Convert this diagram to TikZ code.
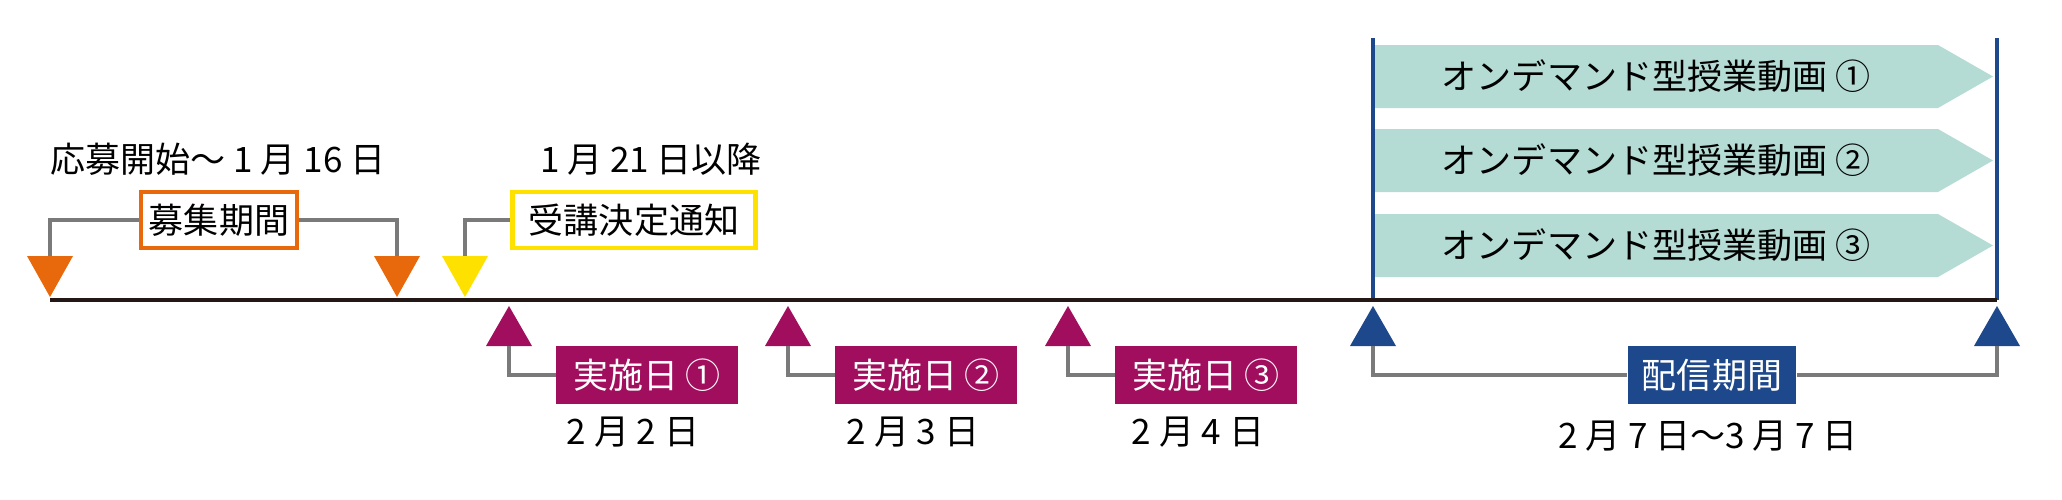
\documentclass[tikz,border=0pt]{standalone}
\usepackage{fontspec}
\setmainfont{Noto Sans CJK JP}
\usetikzlibrary{positioning}
\definecolor{boshu}{RGB}{232,105,12}
\definecolor{tsuchi}{RGB}{255,225,0}
\definecolor{jisshi}{RGB}{161,14,94}
\definecolor{haishin}{RGB}{29,72,140}
\definecolor{douga}{RGB}{180,220,212}
\definecolor{kagigray}{RGB}{122,122,122}
\definecolor{jiku}{RGB}{35,24,21}
\tikzset{
	lbl/.style={inner sep=0pt,font=\fontsize{9.96pt}{12pt}\selectfont},
	outbox/.style={lbl,draw=#1,line width=1.2pt,fill=white,minimum height=0.56cm},
	fillbox/.style={lbl,fill=#1,text=white,minimum height=0.57cm},
	bracket/.style={draw=kagigray,line width=1.1pt}
}
\newcommand{\downmark}[3]{\fill[#3] (#1-23,256) -- (#1+23,256) -- (#1,297) -- cycle; \coordinate (#2) at (#1,256);}
\newcommand{\upmark}[3]{\fill[#3] (#1,306) -- (#1+23,346) -- (#1-23,346) -- cycle; \coordinate (#2) at (#1,346);}
\newcommand{\dougarow}[3]{\fill[douga] (1375,#1-31.5) -- (1938,#1-31.5) -- (1993,#1) -- (1938,#1+31.5) -- (1375,#1+31.5) -- cycle; \node[lbl] (#2) at (1656,#1) {#3};}
\begin{document}
\begin{tikzpicture}[x=0.01cm,y=-0.01cm]
	\useasboundingbox (0,0) rectangle (2062,500);
	% on-demand videos
	\dougarow{76.5}{douga1}{オンデマンド型授業動画 ①}
	\dougarow{160.5}{douga2}{オンデマンド型授業動画 ②}
	\dougarow{245.5}{douga3}{オンデマンド型授業動画 ③}
	\coordinate (haishinL) at (1373,38); \coordinate (haishinR) at (1997,38);
	\coordinate (start) at (50,300); \coordinate (end) at (1997,300);
	\draw[haishin,line width=0.95pt] (haishinL) -- (haishinL |- start) (haishinR) -- (end);
	\draw[jiku,line width=1.4pt] (start) -- (end);
	% above the line
	\downmark{50}{o1}{boshu} \downmark{397}{o2}{boshu} \downmark{465}{y1}{tsuchi}
	\node[outbox=boshu,minimum width=1.56cm] (boshukikan) at (219,220) {募集期間};
	\node[outbox=tsuchi,minimum width=2.43cm] (tsuchi) at (634,220) {受講決定通知};
	\draw[bracket] (o1) |- (boshukikan.west) (o2) |- (boshukikan.east) (y1) |- (tsuchi.west);
	\node[lbl] (boshudate) at (218,159) {応募開始～ 1 月 16 日};
	\node[lbl] (tsuchidate) at (651,159) {1 月 21 日以降};
	% below the line
	\upmark{509}{p1}{jisshi} \upmark{788}{p2}{jisshi} \upmark{1068}{p3}{jisshi}
	\upmark{1373}{b1}{haishin} \upmark{1997}{b2}{haishin}
	\node[fillbox=jisshi,minimum width=1.81cm] (day1) at (647,375) {実施日 ①};
	\node[fillbox=jisshi,minimum width=1.81cm] (day2) at (926,375) {実施日 ②};
	\node[fillbox=jisshi,minimum width=1.81cm] (day3) at (1206,375) {実施日 ③};
	\node[fillbox=haishin,minimum width=1.68cm] (haishinkikan) at (1712,375) {配信期間};
	\draw[bracket] (p1) |- (day1.west) (p2) |- (day2.west) (p3) |- (day3.west);
	\draw[bracket] (b1) |- (haishinkikan.west) (b2) |- (haishinkikan.east);
	\node[lbl] (date1) at (633,432) {2 月 2 日};
	\node[lbl] (date2) at (913,432) {2 月 3 日};
	\node[lbl] (date3) at (1198,432) {2 月 4 日};
	\node[lbl] (haishindate) at (1708,436) {2 月 7 日～3 月 7 日};
\end{tikzpicture}
\end{document}
